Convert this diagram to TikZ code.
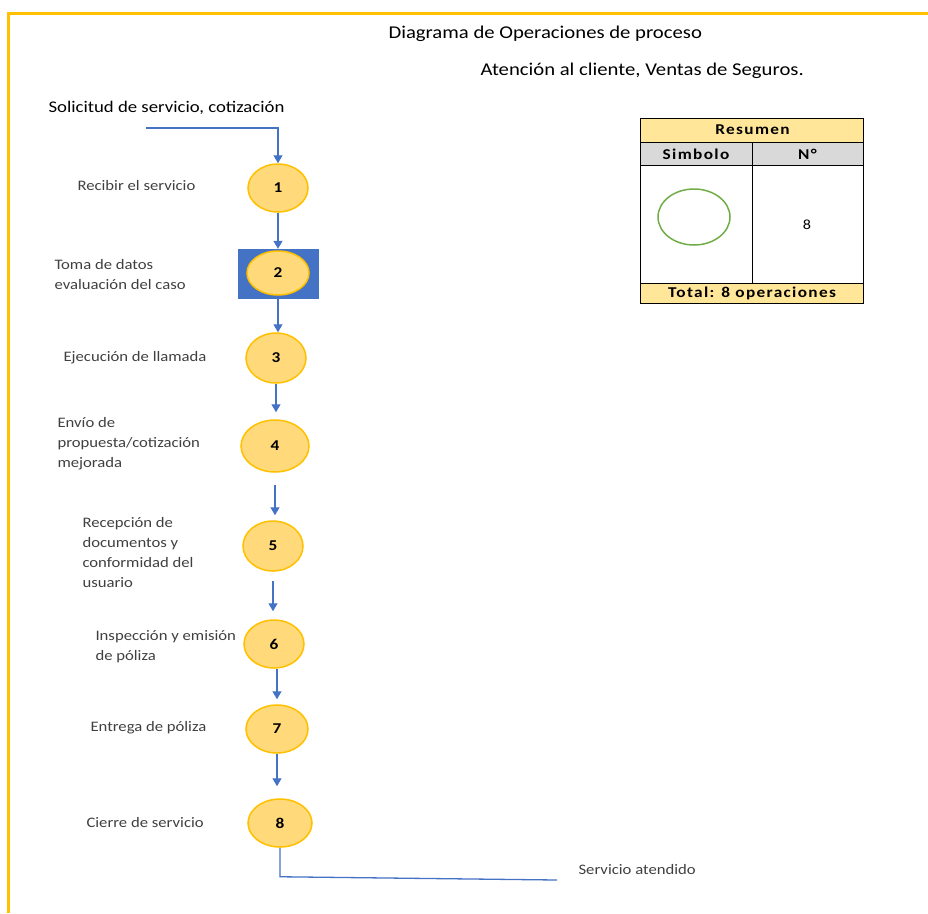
\documentclass[tikz,border=0pt]{standalone}
\usepackage{fontspec}
\setmainfont{Carlito}[FakeStretch=1.15]
\newfontfamily\tablefont{Carlito}[FakeStretch=1.15, LetterSpace=9]
\usetikzlibrary{shapes.geometric,arrows.meta}
\definecolor{opfill}{HTML}{FFD97A}
\definecolor{opline}{HTML}{FFC000}
\definecolor{flow}{HTML}{4472C4}
\definecolor{labelgray}{HTML}{404040}
\definecolor{hdrfill}{HTML}{FFE699}
\definecolor{colfill}{HTML}{D9D9D9}
\definecolor{symline}{HTML}{70AD47}
\begin{document}
\begin{tikzpicture}[x=1pt,y=-1pt,
  op/.style={ellipse, draw=opline, fill=opfill, line width=1.5pt,
    inner sep=0pt, font=\fontsize{15}{15}\selectfont\bfseries},
  lbl/.style={anchor=west, align=left, text=labelgray,
    font=\fontsize{14.5}{20}\selectfont},
  heading/.style={anchor=west, font=\fontsize{18}{18}\selectfont},
  flowarrow/.style={draw=flow, line width=1.3pt, -{Triangle[length=8pt,width=9pt]}},
  flowline/.style={draw=flow, line width=1.3pt},
  cell/.style={draw=black, line width=1pt},
  celltext/.style={font=\tablefont\fontsize{15}{15}\selectfont\bfseries},
]
\useasboundingbox (0,0) rectangle (928,913);

% page frame
\draw[opline, line width=3pt] (8,913) -- (8,13) -- (928,13);

% headings
\node[heading] (title) at (385,34) {Diagrama de Operaciones de proceso};
\node[heading] (subtitle) at (477,71) {Atención al cliente, Ventas de Seguros.};

% start of the process
\node[heading, font=\fontsize{16.3}{16.3}\selectfont] (start) at (45,108) {Solicitud de servicio, cotización};
\coordinate (s) at (146,128);

% operations
\node[op, minimum width=60pt, minimum height=48pt] (c1) at (278,188) {1};
\node[rectangle, fill=flow, minimum width=81pt, minimum height=50pt] (box2) at (278,274) {};
\node[op, minimum width=62pt, minimum height=44pt] (c2) at (278,273) {2};
\node[op, minimum width=60pt, minimum height=50pt] (c3) at (276,358) {3};
\node[op, minimum width=68pt, minimum height=52pt] (c4) at (275,446) {4};
\node[op, minimum width=60pt, minimum height=50pt] (c5) at (273,546) {5};
\node[op, minimum width=60pt, minimum height=48pt] (c6) at (274,644) {6};
\node[op, minimum width=62pt, minimum height=48pt] (c7) at (277,729) {7};
\node[op, minimum width=64pt, minimum height=48pt] (c8) at (280,823) {8};

% operation labels
\node[lbl] (l1) at (74,186) {Recibir el servicio};
\node[lbl] (l2) at (51,275) {Toma de datos\\evaluación del caso};
\node[lbl] (l3) at (60,358) {Ejecución de llamada};
\node[lbl] (l4) at (54,444) {Envío de\\propuesta/cotización\\mejorada};
\node[lbl] (l5) at (79,553) {Recepción de\\documentos y\\conformidad del\\usuario};
\node[lbl] (l6) at (92,647) {Inspección y emisión\\de póliza};
\node[lbl] (l7) at (87,728) {Entrega de póliza};
\node[lbl] (l8) at (83,823) {Cierre de servicio};

% flow
\draw[flowarrow] (s) -| (c1.north);
\draw[flowarrow] (c1.south) -- (c1.south |- box2.north);
\draw[flowarrow] (box2.south) -- (box2.south |- c3.north);
\draw[flowarrow, shorten >=7pt] (c3.south) -- (c3.south |- c4.north);
\draw[flowarrow, shorten <=12pt, shorten >=5pt] (c4.south) -- (c4.south |- c5.north);
\draw[flowarrow, shorten <=9pt, shorten >=8pt] (c5.south) -- (c5.south |- c6.north);
\draw[flowarrow, shorten >=5pt] (c7.north |- c6.south) -- (c7.north);
\draw[flowarrow, shorten >=12pt] (c7.south) -- (c7.south |- c8.north);

% end of the process
\coordinate (e) at (557,880);
\draw[flowline] (c8.south) -- ++(0,29) coordinate (corner) -- (e);
\node[lbl] (end) at (575,870) {Servicio atendido};

% summary table
\filldraw[cell, fill=hdrfill] (640,118) rectangle (863,142);
\filldraw[cell, fill=colfill] (640,142) rectangle (863,165);
\draw[cell] (640,165) rectangle (863,283);
\filldraw[cell, fill=hdrfill] (640,283) rectangle (863,303);
\draw[cell] (752,142) -- (752,283);
\node[celltext] (resumen) at (752.5,130) {Resumen};
\node[celltext] (simbolo) at (696,154) {Simbolo};
\node[celltext] (numero) at (807.5,154) {N°};
\node[ellipse, draw=symline, line width=1.5pt, minimum width=72pt, minimum height=56pt] (sym) at (694,217) {};
\node[font=\fontsize{14}{14}\selectfont] (count) at (807,225) {8};
\node[celltext] (total) at (752,293) {Total: 8 operaciones};
\end{tikzpicture}
\end{document}
